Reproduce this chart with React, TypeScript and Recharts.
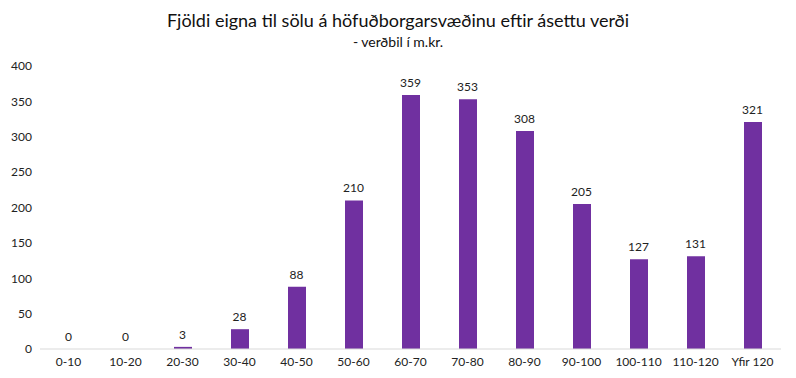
import React from "react";
import { ComposedChart, Bar, Line, XAxis, YAxis, LabelList } from "recharts";

const categories = ["0-10", "10-20", "20-30", "30-40", "40-50", "50-60", "60-70", "70-80", "80-90", "90-100", "100-110", "110-120", "Yfir 120"];
const counts = [0, 0, 3, 28, 88, 210, 359, 353, 308, 205, 127, 131, 321];
const yTicks = [0, 50, 100, 150, 200, 250, 300, 350, 400];

const data = categories.map((name, i) => ({ name, count: counts[i] }));

const FONT = "Lato, 'DejaVu Sans', sans-serif";

export default function App() {
  return (
    <div style={{ position: "relative", width: 796, height: 378, background: "#fff", fontFamily: FONT }}>
      <style>{`body{margin:0}`}</style>
      <div style={{ position: "absolute", top: 9, left: 0, width: 796, textAlign: "center", fontSize: 18, color: "#111" }}>
        Fjöldi eigna til sölu á höfuðborgarsvæðinu eftir ásettu verði
      </div>
      <div style={{ position: "absolute", top: 33, left: 0, width: 796, textAlign: "center", fontSize: 14, color: "#111" }}>
        - verðbil í m.kr.
      </div>
      <ComposedChart width={796} height={378} data={data} margin={{ top: 66, right: 15, left: 0, bottom: 4 }}>
        <XAxis
          dataKey="name"
          tickLine={false}
          axisLine={{ stroke: "#d9d9d9" }}
          tick={{ fontSize: 12, fill: "#222", fontFamily: FONT }}
          height={25}
          interval={0}
        />
        <YAxis
          domain={[0, 400]}
          ticks={yTicks}
          width={40}
          axisLine={false}
          tickLine={false}
          tick={{ fontSize: 12, fill: "#222", fontFamily: FONT }}
        />
        <Bar dataKey="count" fill="#7030A0" barSize={18} isAnimationActive={false} />
        <Line dataKey="count" stroke="none" dot={false} activeDot={false} isAnimationActive={false}>
          <LabelList dataKey="count" position="top" offset={8} style={{ fontSize: 12, fill: "#222", fontFamily: FONT }} />
        </Line>
      </ComposedChart>
    </div>
  );
}
